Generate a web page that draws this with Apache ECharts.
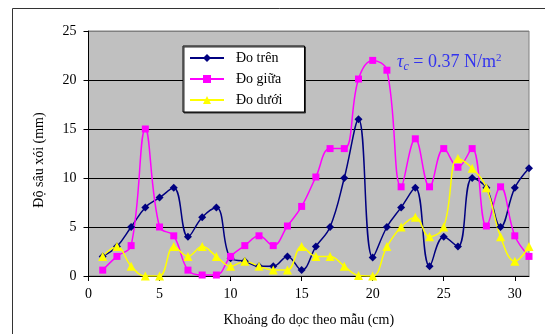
<!DOCTYPE html>
<html>
<head>
<meta charset="utf-8">
<script src="https://cdn.jsdelivr.net/npm/echarts@6/dist/echarts.min.js"></script>
<style>
html,body{margin:0;padding:0;background:#fff;}
#chart{width:545px;height:334px;}
</style>
</head>
<body>
<div id="chart"></div>
<script>
var positions = [1,2,3,4,5,6,7,8,9,10,11,12,13,14,15,16,17,18,19,20,21,22,23,24,25,26,27,28,29,30,31];
var doTren  = [2,3,5,7,8,9,4,6,7,1.8,1.5,1,1,2,0.6,3,5,10,16,1.9,5,7,9,1,4,3,10,9,5,9,11];
var doGiua  = [0.6,2,3.1,15,5,4.1,0.6,0.1,0.1,2,3.1,4.1,3.1,5.1,7.1,10.1,13,13,20.1,22,21,9.1,14,9.1,13,11.1,13,5.1,9.1,4.1,2];
var doDuoi  = [2,3,1,0,0,3,2,3,2,1,1.5,1,0.6,0.6,3,2,2,1,0.05,0,3,5,6,4,5,12,11,9,4,1.5,3];
var seriesNames = ['Đo trên','Đo giữa','Đo dưới'];
var xTitle = 'Khoảng đo dọc theo mẫu (cm)';
var yTitle = 'Độ sâu xói (mm)';

function pairs(vals){ return positions.map(function(x,i){ return [x, vals[i]]; }); }

var font = 'Liberation Serif';
var chart = echarts.init(document.getElementById('chart'), null, {renderer:'canvas'});
chart.setOption({
  backgroundColor:'#ffffff',
  animation:false,
  grid:{left:88.5, right:16, top:31, bottom:58, show:true, backgroundColor:'#c0c0c0', borderColor:'#808080', borderWidth:1},
  xAxis:{
    type:'value', min:0, max:31, interval:5,
    name:xTitle, nameLocation:'middle', nameGap:37,
    nameTextStyle:{fontFamily:font, fontSize:14, color:'#000'},
    axisLine:{lineStyle:{color:'#000', width:1}},
    axisTick:{show:true, length:5, lineStyle:{color:'#000'}},
    axisLabel:{fontFamily:font, fontSize:14, color:'#000', margin:11, showMaxLabel:false},
    splitLine:{show:false}
  },
  yAxis:{
    type:'value', min:0, max:25, interval:5,
    name:yTitle, nameLocation:'middle', nameGap:42, nameRotate:90,
    nameTextStyle:{fontFamily:font, fontSize:14, color:'#000', padding:[0,13,0,0]},
    axisLine:{show:true, lineStyle:{color:'#000', width:1}},
    axisTick:{show:true, length:5, lineStyle:{color:'#000'}},
    axisLabel:{fontFamily:font, fontSize:14, color:'#000', margin:12},
    splitLine:{show:true, lineStyle:{color:['#000','#000','#000','#000','#000','#808080'], width:1}}
  },
  legend:{
    left:183, top:46, orient:'vertical',
    backgroundColor:'#fff', borderColor:'#000', borderWidth:1,
    shadowColor:'#333', shadowOffsetX:1, shadowOffsetY:1, shadowBlur:0,
    padding:[5,22,5,6], itemWidth:34, itemHeight:10, itemGap:7,
    textStyle:{fontFamily:font, fontSize:14, color:'#000', padding:[0,0,0,7], lineHeight:14},
    data:seriesNames
  },
  graphic:[
    {type:'rect', left:10, top:6, shape:{x:0,y:0,width:600,height:400}, style:{fill:'none', stroke:'#333', lineWidth:1}, z:-10, silent:true},
    {type:'text', left:397, top:53, z:100, style:{
      rich:{
        t:{fontFamily:font, fontSize:18, fontStyle:'italic', fill:'#3333ee'},
        s:{fontFamily:font, fontSize:12, fontStyle:'italic', fill:'#3333ee', padding:[8,0,0,0]},
        n:{fontFamily:font, fontSize:18, fill:'#3333ee'},
        p:{fontFamily:font, fontSize:11, fill:'#3333ee', padding:[0,0,8,0]}
      },
      text:'{t|τ}{s|c}{n| = 0.37 N/m}{p|2}'
    }}
  ],
  series:[
    {name:seriesNames[0], type:'line', smooth:0.4, data:pairs(doTren), symbol:'diamond', symbolSize:8,
     lineStyle:{color:'#000080', width:1.5}, itemStyle:{color:'#000080'}},
    {name:seriesNames[1], type:'line', smooth:0.4, data:pairs(doGiua), symbol:'rect', symbolSize:7,
     lineStyle:{color:'#ff00ff', width:1.5}, itemStyle:{color:'#ff00ff'}},
    {name:seriesNames[2], type:'line', smooth:0.4, data:pairs(doDuoi), symbol:'triangle', symbolSize:9,
     lineStyle:{color:'#ffff00', width:1.5}, itemStyle:{color:'#ffff00'}}
  ]
});
</script>
</body>
</html>
